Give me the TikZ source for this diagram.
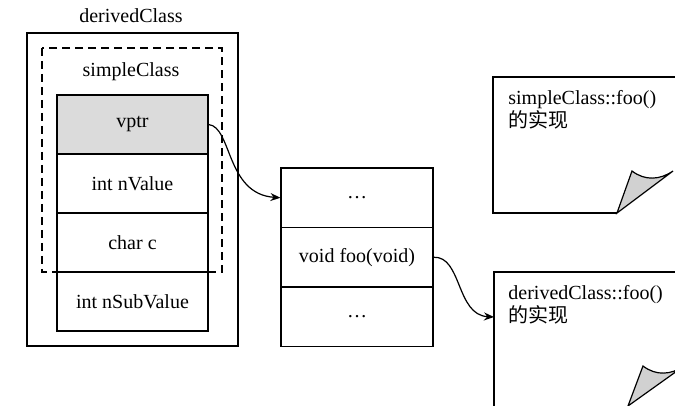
\documentclass[tikz,border=0pt]{standalone}
\usepackage{fontspec}
\setmainfont{Liberation Serif}
\newfontfamily\cjk{Noto Sans CJK SC}
\usetikzlibrary{arrows.meta}
\begin{document}
\begin{tikzpicture}[x=0.5pt,y=-0.5pt,
  every node/.style={font=\fontsize{10}{11.5}\selectfont},
  cell/.style={draw, line width=0.6pt, minimum width=75.5pt, minimum height=29.5pt, inner sep=0pt},
  vcell/.style={draw, line width=0.6pt, minimum width=76pt, minimum height=29.75pt, inner sep=0pt},
  box/.style={draw, line width=0.7pt},
  dbox/.style={draw, line width=0.7pt, dash pattern=on 4pt off 2.5pt},
  link/.style={line width=0.6pt, -{Stealth[length=5pt,width=4pt]}},
  note/.style={draw, line width=0.6pt},
  curl/.style={draw, line width=0.6pt, fill=black!18},
  label/.style={inner sep=0pt}]
\useasboundingbox (0,0) rectangle (675,406);
\clip (0,0) rectangle (675,406);

% derivedClass object and its simpleClass part
\node[label] (dlabel) at (131,16) {derivedClass};
\draw[box] (27,33) rectangle (238,346);
\draw[dbox] (42,48) rectangle (222,272);
\node[label] (slabel) at (131,72) {simpleClass};

% object layout
\node[cell, fill=black!14] (vptr) at (132.5,124.5) {vptr};
\node[cell] (nval) at (132.5,183.5) {int nValue};
\node[cell] (charc) at (132.5,242.5) {char c};
\node[cell] (nsub) at (132.5,301.5) {int nSubValue};

% virtual function table
\node[vcell] (vt1) at (357,197.75) {\dots};
\node[vcell] (vt2) at (357,257.25) {void foo(void)};
\node[vcell] (vt3) at (357,316.75) {\dots};

% note: simpleClass::foo()
\draw[note] (675,77) -- (493,77) -- (493,213) -- (617,213);
\draw[curl] (617,213) -- (632,171) .. controls (645,181) and (660,180) .. (673,171) -- cycle;
\node[label, anchor=north west, align=left] (note1) at (508,90)
  {simpleClass::foo()\\{\cjk 的实现}};

% note: derivedClass::foo()
\draw[note] (675,272) -- (494,272) -- (494,406);
\draw[curl] (628,406) -- (643,366) .. controls (656,376) and (671,375) .. (684,366) -- cycle;
\node[label, anchor=north west, align=left] (note2) at (508,285)
  {derivedClass::foo()\\{\cjk 的实现}};
\coordinate (note2in) at (494,317);

% pointers
\draw[link] (vptr.east) .. controls (232,127) and (226,194) .. (vt1.west);
\draw[link] (vt2.east) .. controls (462,256) and (456,315) .. (note2in);
\end{tikzpicture}
\end{document}
